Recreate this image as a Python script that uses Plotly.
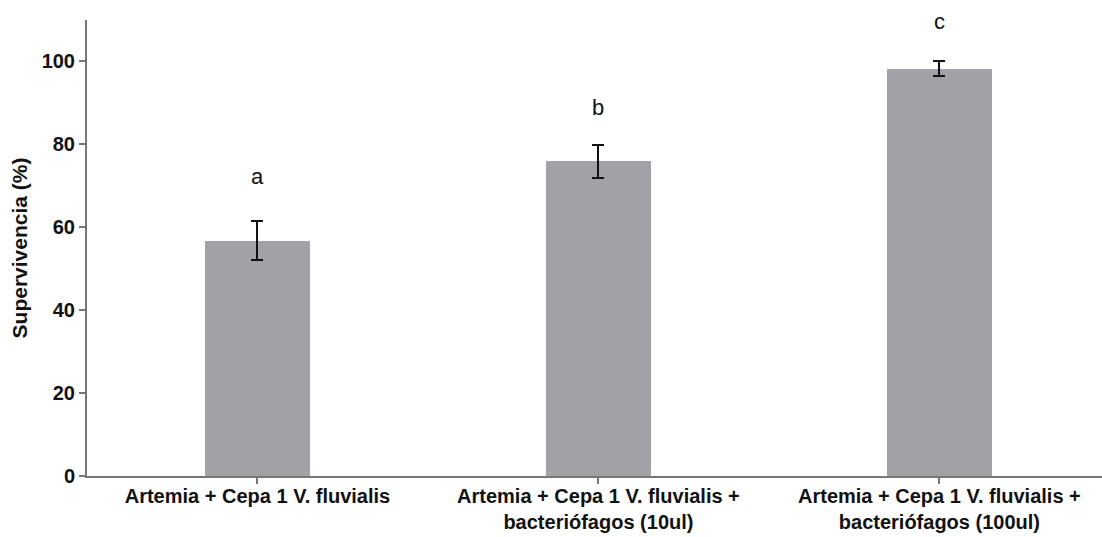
import plotly.graph_objects as go

# Survival of Artemia challenged with V. fluvialis strain 1, with and without phage
categories = [
    "Artemia + Cepa 1 V. fluvialis",
    "Artemia + Cepa 1 V. fluvialis +<br>bacteriófagos (10ul)",
    "Artemia + Cepa 1 V. fluvialis +<br>bacteriófagos (100ul)",
]
survival = [56.8, 75.9, 98.3]
error = [4.6, 4.0, 1.9]
letters = ["a", "b", "c"]
letter_y = [72.2, 89.0, 109.7]

font_family = "Liberation Sans, Arial, sans-serif"

fig = go.Figure()
fig.add_trace(go.Bar(
    x=list(range(len(categories))),
    y=survival,
    width=0.31,
    marker=dict(color="#a3a1a7", line=dict(width=0)),
    error_y=dict(type="data", array=error, visible=True,
                 color="#111111", thickness=2, width=6),
    showlegend=False,
))

for i, (lab, ly) in enumerate(zip(letters, letter_y)):
    fig.add_annotation(x=i, y=ly, text=lab, showarrow=False,
                       font=dict(family=font_family, size=22, color="#111111"),
                       xanchor="center", yanchor="middle")

fig.update_layout(
    width=1102, height=537,
    margin=dict(l=87, r=0, t=20, b=61),
    paper_bgcolor="white", plot_bgcolor="white",
    font=dict(family=font_family, color="#111111"),
    bargap=0,
)
fig.update_xaxes(
    automargin=False,
    tickmode="array",
    tickvals=list(range(len(categories))),
    ticktext=[f"<b>{c}</b>" for c in categories],
    tickfont=dict(size=20, color="#111111"),
    ticklabelstandoff=-5,
    range=[-0.5, 2.477],
    showline=True, linecolor="#777777", linewidth=2,
    ticks="outside", tickson="boundaries", ticklen=6, tickcolor="#777777", tickwidth=2,
    showgrid=False, zeroline=False,
)
fig.update_yaxes(
    automargin=False,
    range=[0, 110],
    tickvals=[0, 20, 40, 60, 80, 100],
    ticktext=[f"<b>{v}</b>" for v in [0, 20, 40, 60, 80, 100]],
    tickfont=dict(size=20, color="#111111"),
    title=dict(text="<b>Supervivencia (%)</b>", font=dict(size=21, color="#111111"), standoff=8),
    showline=True, linecolor="#777777", linewidth=2,
    ticks="outside", ticklen=6, tickcolor="#777777", tickwidth=2,
    showgrid=False, zeroline=False,
)

fig.write_html("out.html")
